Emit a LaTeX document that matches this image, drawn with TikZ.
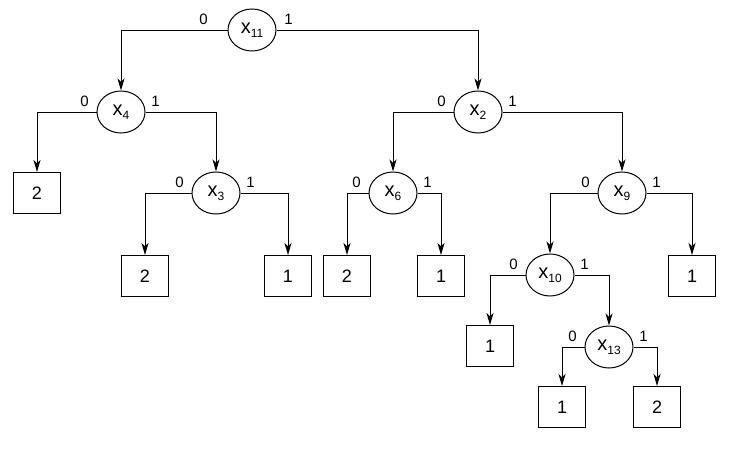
\documentclass[tikz,border=0pt]{standalone}
\usepackage{fontspec}
\setmainfont{Liberation Sans}
\usetikzlibrary{arrows.meta,positioning,shapes.geometric}
\newcommand{\xvar}[1]{x\raisebox{-4pt}{\fontsize{12}{12}\selectfont #1}}
\begin{document}
\begin{tikzpicture}[x=1pt, y=-1pt, line width=1pt,
    >={Stealth[length=12pt,width=7pt,inset=3.5pt]},
    var/.style={draw, ellipse, minimum width=48pt, minimum height=42pt, inner sep=0pt, font=\fontsize{20}{20}\selectfont},
    leaf/.style={draw, rectangle, minimum width=47pt, minimum height=41pt, inner sep=0pt, font=\fontsize{18}{18}\selectfont},
    lbl/.style={inner sep=0pt, font=\fontsize{15}{15}\selectfont}]
  \useasboundingbox (0,0) rectangle (733,450);
  % inner nodes
  \node[var] (x11) at (252,30) {\xvar{11}};
  \node[var] (x4) at (121,112) {\xvar{4}};
  \node[var] (x2) at (478,112) {\xvar{2}};
  \node[var] (x3) at (216,193) {\xvar{3}};
  \node[var] (x6) at (393,193) {\xvar{6}};
  \node[var] (x9) at (622,193) {\xvar{9}};
  \node[var] (x10) at (550,275) {\xvar{10}};
  \node[var] (x13) at (609,347) {\xvar{13}};
  % leaves
  \node[leaf] (l4) at (37,193) {2};
  \node[leaf] (l3a) at (145,276) {2};
  \node[leaf] (l3b) at (288,276) {1};
  \node[leaf] (l6a) at (347,276) {2};
  \node[leaf] (l6b) at (441,276) {1};
  \node[leaf] (l9) at (692,276) {1};
  \node[leaf] (l10) at (490,346) {1};
  \node[leaf] (l13a) at (562,407) {1};
  \node[leaf] (l13b) at (657,407) {2};
  % branches
  \foreach \v/\a/\b in {x11/x4/x2, x4/l4/x3, x2/x6/x9, x3/l3a/l3b, x6/l6a/l6b, x9/x10/l9, x10/l10/x13, x13/l13a/l13b} {
    \draw[->] (\v.west) -| (\a.north);
    \draw[->] (\v.east) -| (\b.north);
  }
  % edge labels
  \node[lbl, anchor=south] at ([xshift=-24pt, yshift=5pt]x11.west) {0};
  \node[lbl, anchor=south] at ([xshift=12pt, yshift=5pt]x11.east) {1};
  \foreach \v in {x4, x2, x3, x6, x9, x10, x13} {
    \node[lbl, anchor=south] at ([xshift=-12pt, yshift=5pt]\v.west) {0};
    \node[lbl, anchor=south] at ([xshift=10pt, yshift=5pt]\v.east) {1};
  }
\end{tikzpicture}
\end{document}
